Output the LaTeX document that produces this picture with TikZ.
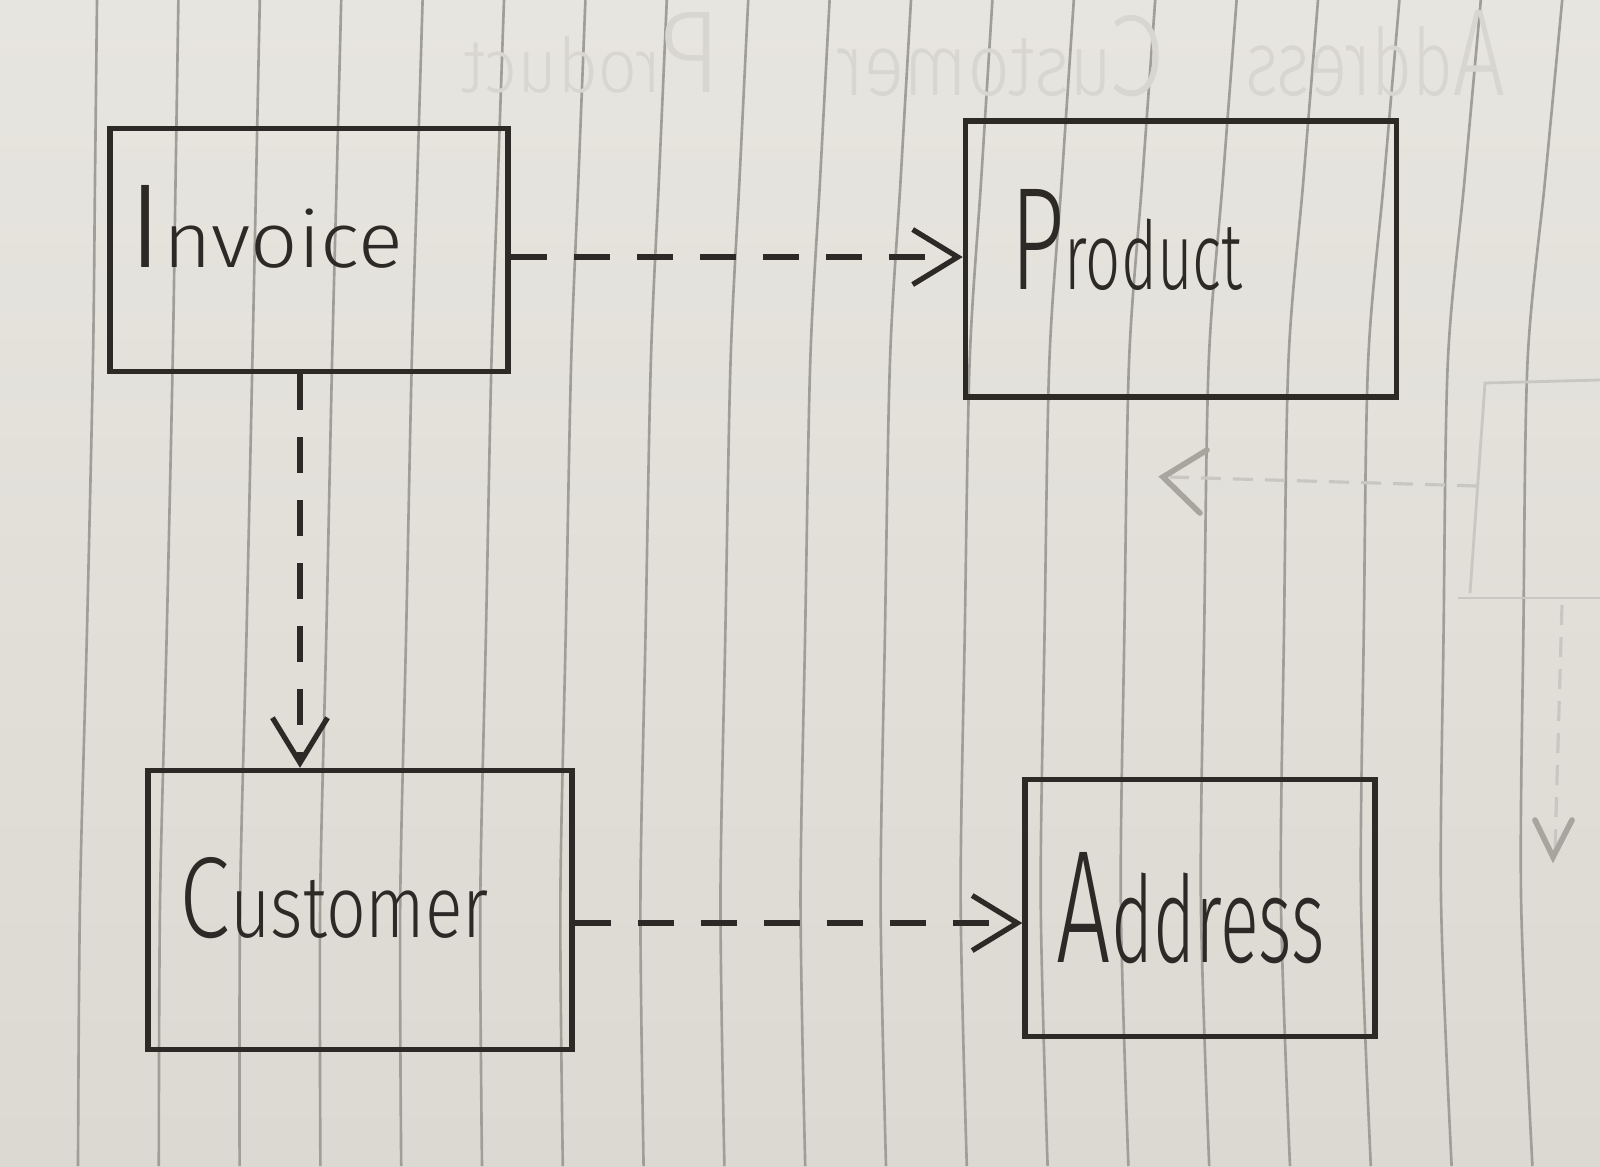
\documentclass[tikz,border=0pt]{standalone}
\usepackage{fontspec}
\setmainfont{Fira Sans Light}
\usetikzlibrary{arrows.meta}
\definecolor{paper}{HTML}{E7E5DF}
\definecolor{paperdark}{HTML}{DCD9D2}
\definecolor{ruleink}{HTML}{A09E99}
\definecolor{ink}{HTML}{2C2927}
\definecolor{ghost}{HTML}{C9C7C1}
\definecolor{ghosttext}{HTML}{D8D6D0}
\definecolor{ghostdark}{HTML}{A8A59F}
\tikzset{
  umlbox/.style={draw=ink, line width=1.5pt, inner sep=0pt},
  lbl/.style={text=ink, inner sep=0pt, anchor=base west},
  ghostlbl/.style={text=ghosttext, inner sep=0pt, anchor=base west},
  ruleline/.style={draw=ruleink, line width=0.75pt, line join=round},
  dep/.style={draw=ink, line width=1.5pt, dash pattern=on 0.36cm off 0.27cm,
    -{Straight Barb[length=0.45cm,width=0.55cm,line width=1.5pt]}},
  ghostline/.style={draw=ghost, line width=0.8pt},
  ghostdash/.style={draw=ghost, line width=0.9pt, dash pattern=on 0.2cm off 0.12cm},
  ghosttip/.style={draw=ghostdark, line width=1.6pt, line cap=round}
}
% handwritten look: big initial, small lower case
\newcommand{\hwword}[3]{{\fontsize{10}{10}\selectfont #1}{\fontsize{#3}{#3}\selectfont #2}}
\begin{document}
\begin{tikzpicture}[x=0.01cm,y=-0.01cm]
\useasboundingbox (0,0) rectangle (1600,1166);
\shade[top color=paper,bottom color=paperdark] (0,0) rectangle (1600,1166);
% ruled lines of the sheet (slightly curved in the photo)
\foreach \k in {0,...,18} {
  \pgfmathsetmacro{\xa}{97+81.4*\k}
  \pgfmathsetmacro{\xb}{95+80.56*\k}
  \pgfmathsetmacro{\xc}{93+79.7*\k}
  \pgfmathsetmacro{\xd}{87+79.8*\k}
  \pgfmathsetmacro{\xe}{80+80.06*\k}
  \pgfmathsetmacro{\xf}{78+80.8*\k}
  \draw[ruleline] plot[smooth, tension=0.5] coordinates
    {(\xa,0) (\xb,180) (\xc,360) (\xd,630) (\xe,900) (\xf,1166)};
}
% faint show-through from the other side of the sheet
\node[ghostlbl] (ghostP) at (461,92) {\scalebox{-1}[1]{\resizebox{2.60cm}{0.80cm}{\hwword{P}{roduct}{6.5}}}};
\node[ghostlbl] (ghostC) at (836,95) {\scalebox{-1}[1]{\resizebox{3.29cm}{0.80cm}{\hwword{C}{ustomer}{7.6}}}};
\node[ghostlbl] (ghostA) at (1245,95) {\scalebox{-1}[1]{\resizebox{2.60cm}{0.85cm}{\hwword{A}{ddress}{7.5}}}};
\coordinate (g1) at (1600,380);
\coordinate (g2) at (1485,383);
\coordinate (g3) at (1470,593);
\coordinate (g4) at (1458,598);
\coordinate (g5) at (1600,598);
\draw[ghostline] (g1) -- (g2) -- (g3);
\draw[ghostline] (g4) -- (g5);
\coordinate (ga) at (1477,486);
\coordinate (gb) at (1170,477);
\draw[ghostdash] (ga) -- (gb);
\coordinate (gt) at (1163,477);
\coordinate (gu) at (1207,450);
\coordinate (gl) at (1200,513);
\draw[ghosttip] (gu) -- (gt) -- (gl);
\coordinate (gc) at (1562,605);
\coordinate (gd) at (1555,850);
\draw[ghostdash] (gc) -- (gd);
\coordinate (gv) at (1553,857);
\coordinate (gw) at (1535,820);
\coordinate (gx) at (1572,820);
\draw[ghosttip] (gw) -- (gv) -- (gx);

% boxes
\node[umlbox, minimum width=3.98cm, minimum height=2.43cm] (inv)  at (309,250) {};
\node[umlbox, minimum width=4.31cm, minimum height=2.76cm] (prod) at (1181,259) {};
\node[umlbox, minimum width=4.24cm, minimum height=2.79cm] (cust) at (360,910) {};
\node[umlbox, minimum width=3.50cm, minimum height=2.57cm] (addr) at (1200,908) {};

% labels
\node[lbl] (invT)  at (127,267) {\resizebox{2.75cm}{0.82cm}{\hwword{I}{nvoice}{6.5}}};
\node[lbl] (prodT) at (1010,289) {\resizebox{2.32cm}{1.00cm}{\hwword{P}{roduct}{6.5}}};
\node[lbl] (custT) at (179,937) {\resizebox{3.09cm}{0.80cm}{\hwword{C}{ustomer}{7.6}}};
\node[lbl] (addrT) at (1056,962) {\resizebox{2.68cm}{1.10cm}{\hwword{A}{ddress}{7.5}}};

% dependencies
\draw[dep] ([yshift=-0.07cm]inv.east) -- ([yshift=-0.07cm]inv.east -| prod.west);
\draw[dep] ([xshift=-0.09cm]inv.south) -- ([xshift=-0.09cm]inv.south |- cust.north);
\draw[dep] ([yshift=-0.13cm]cust.east) -- ([yshift=-0.13cm]cust.east -| addr.west);
\end{tikzpicture}
\end{document}
